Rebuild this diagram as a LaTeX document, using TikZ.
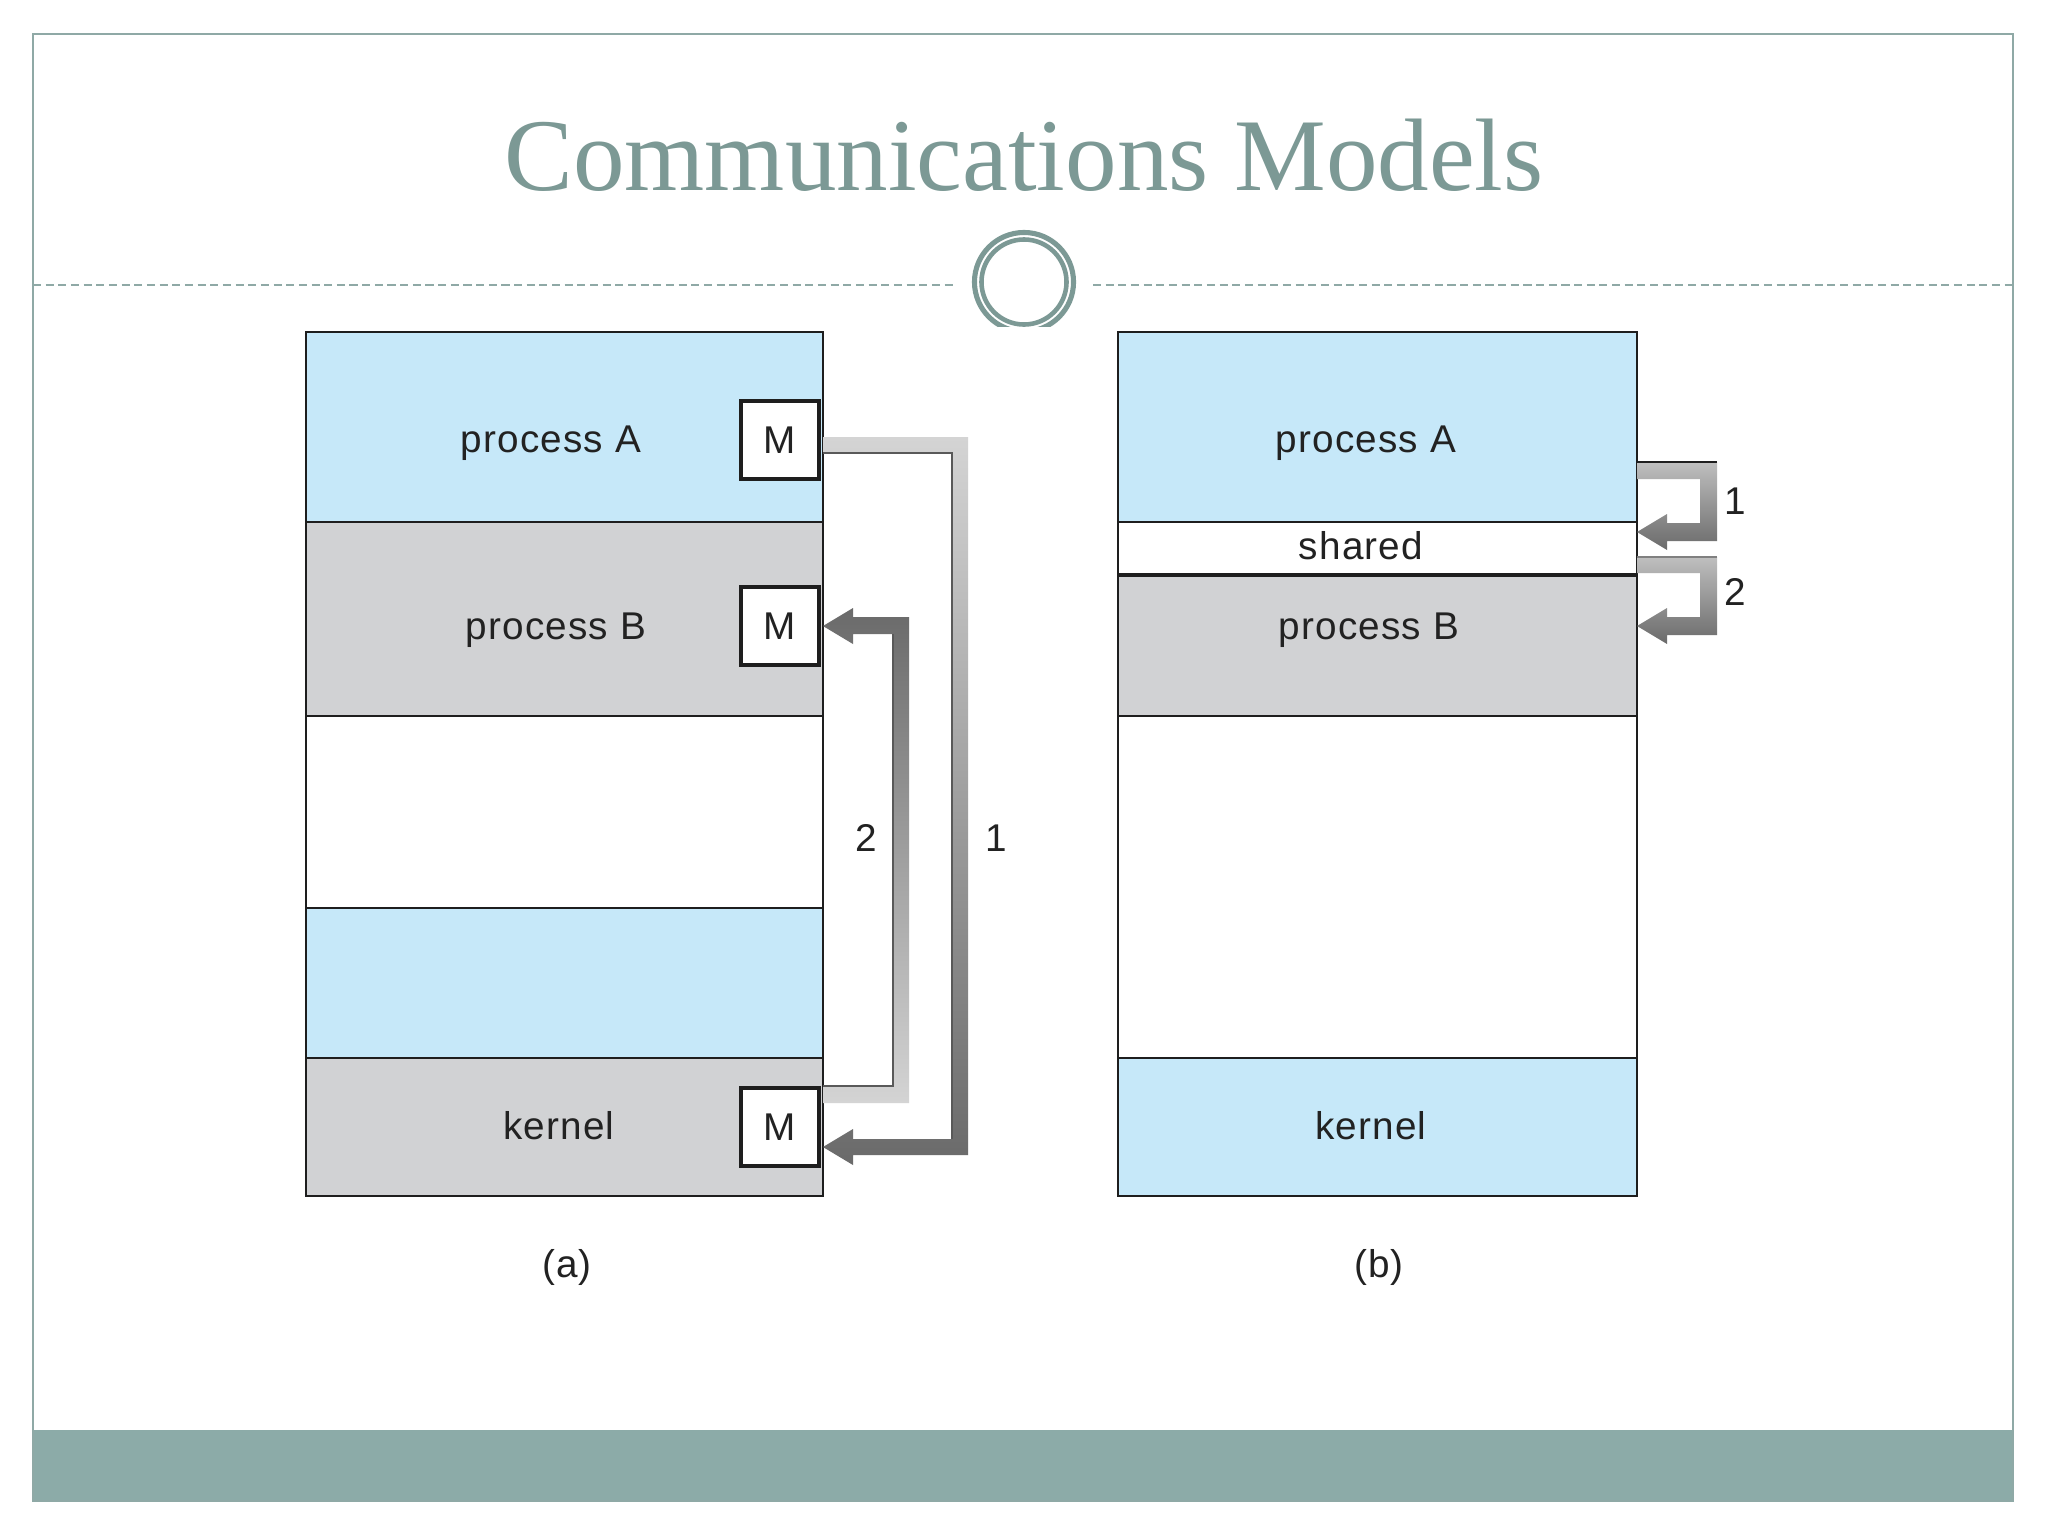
\documentclass[tikz,border=0pt]{standalone}
\usepackage{fontspec}
\setmainfont{Liberation Serif}
\newfontfamily\labfont[LetterSpace=3]{Liberation Sans}
\definecolor{frameC}{HTML}{8FA9A6}
\definecolor{bandC}{HTML}{8CABA8}
\definecolor{titleC}{HTML}{7C9995}
\definecolor{blueC}{HTML}{C6E8F9}
\definecolor{grayC}{HTML}{D1D2D4}
\definecolor{lineC}{HTML}{1E1E1E}
\definecolor{arrLight}{HTML}{D4D4D4}
\definecolor{arrDark}{HTML}{6A6A6A}
\definecolor{txtC}{HTML}{222222}
\tikzset{
  lab/.style={font=\labfont\fontsize{11}{13}\selectfont, text=txtC, inner sep=0pt},
  mbox/.style={draw=lineC, line width=0.9pt, fill=white, minimum size=0.78cm, inner sep=0pt, font=\labfont\fontsize{11}{13}\selectfont, text=txtC},
  sep/.style={lineC, line width=0.6pt}
}
\begin{document}
\begin{tikzpicture}[x=0.01cm,y=-0.01cm]
\useasboundingbox (0,0) rectangle (2048,1536);
\fill[white] (0,0) rectangle (2048,1536);
% frame and bottom band
\fill[bandC] (33,1430) rectangle (2013,1501);
\draw[frameC, line width=0.7pt] (33,34) rectangle (2013,1501);
% title
\node[text=titleC, font=\fontsize{29.3}{34}\selectfont, anchor=base, inner sep=0pt] (title) at (1024,190) {Communications Models};
% dashed rule and circle ornament
\draw[frameC, line width=0.45pt, dash pattern=on 2.3pt off 1.3pt] (33,285) -- (955,285);
\draw[frameC, line width=0.45pt, dash pattern=on 2.3pt off 1.3pt] (1093,285) -- (2013,285);
\begin{scope}
  \clip (900,200) rectangle (1150,326);
  \draw[titleC, line width=1.45pt] (1024,282) circle[radius=0.495cm];
  \draw[titleC, line width=1.3pt] (1024,282) circle[radius=0.425cm];
\end{scope}

% ---------------- (a) message passing ----------------
\fill[blueC] (306,332) rectangle (823,522);
\fill[grayC] (306,522) rectangle (823,716);
\fill[white] (306,716) rectangle (823,908);
\fill[blueC] (306,908) rectangle (823,1058);
\fill[grayC] (306,1058) rectangle (823,1196);
\draw[sep] (306,522) -- (823,522);
\draw[sep] (306,716) -- (823,716);
\draw[sep] (306,908) -- (823,908);
\draw[sep] (306,1058) -- (823,1058);
\draw[sep] (306,332) rectangle (823,1196);
\node[lab] (aA) at (551,443) {process A};
\node[lab] (aB) at (556,630) {process B};
\node[lab] (aK) at (559,1126) {kernel};
\node[mbox] (mA) at (780,440) {M};
\node[mbox] (mB) at (780,626) {M};
\node[mbox] (mK) at (780,1127) {M};
% arrow 1: M(A) -> M(kernel)
\shade[top color=arrLight, bottom color=arrDark]
  (823,437) -- (968,437) -- (968,1155) -- (853,1155) -- (853,1165) -- (823,1147)
  -- (853,1129) -- (853,1139) -- (952,1139) -- (952,453) -- (823,453) -- cycle;
\draw[gray!70!black, line width=0.35pt] (823,453) -- (952,453) -- (952,1139);
% arrow 2: M(kernel) -> M(B)
\shade[top color=arrDark, bottom color=arrLight]
  (823,1103) -- (909,1103) -- (909,617) -- (853,617) -- (853,608) -- (823,626)
  -- (853,644) -- (853,634) -- (893,634) -- (893,1086) -- (823,1086) -- cycle;
\draw[gray!70!black, line width=0.35pt] (823,1086) -- (893,1086) -- (893,634);
\node[lab] (n2a) at (866,838) {2};
\node[lab] (n1a) at (996,838) {1};
\node[lab] (capA) at (567,1267) {(a)};

% ---------------- (b) shared memory ----------------
\fill[blueC] (1118,332) rectangle (1637,522);
\fill[white] (1118,522) rectangle (1637,574);
\fill[grayC] (1118,574) rectangle (1637,716);
\fill[white] (1118,716) rectangle (1637,1058);
\fill[blueC] (1118,1058) rectangle (1637,1196);
\draw[sep] (1118,522) -- (1637,522);
\draw[lineC, line width=1.3pt] (1118,575) -- (1637,575);
\draw[sep] (1118,716) -- (1637,716);
\draw[sep] (1118,1058) -- (1637,1058);
\draw[sep] (1118,332) rectangle (1637,1196);
\node[lab] (bA) at (1366,443) {process A};
\node[lab] (bS) at (1361,546) {shared};
\node[lab] (bB) at (1369,630) {process B};
\node[lab] (bK) at (1371,1126) {kernel};
% arrow 1: process A -> shared
\shade[top color=arrLight!90!black, bottom color=arrDark]
  (1637,462) -- (1717,462) -- (1717,541) -- (1667,541) -- (1667,550) -- (1637,532)
  -- (1667,514) -- (1667,523) -- (1700,523) -- (1700,479) -- (1637,479) -- cycle;
\draw[lineC, line width=0.6pt] (1637,462) -- (1717,462);
% arrow 2: shared -> process B
\shade[top color=arrLight!90!black, bottom color=arrDark]
  (1637,557) -- (1717,557) -- (1717,635) -- (1667,635) -- (1667,644) -- (1637,626)
  -- (1667,608) -- (1667,617) -- (1700,617) -- (1700,573) -- (1637,573) -- cycle;
\draw[gray, line width=0.5pt] (1637,557) -- (1717,557);
\node[lab] (n1b) at (1735,501) {1};
\node[lab] (n2b) at (1735,592) {2};
\node[lab] (capB) at (1379,1267) {(b)};
\end{tikzpicture}
\end{document}
